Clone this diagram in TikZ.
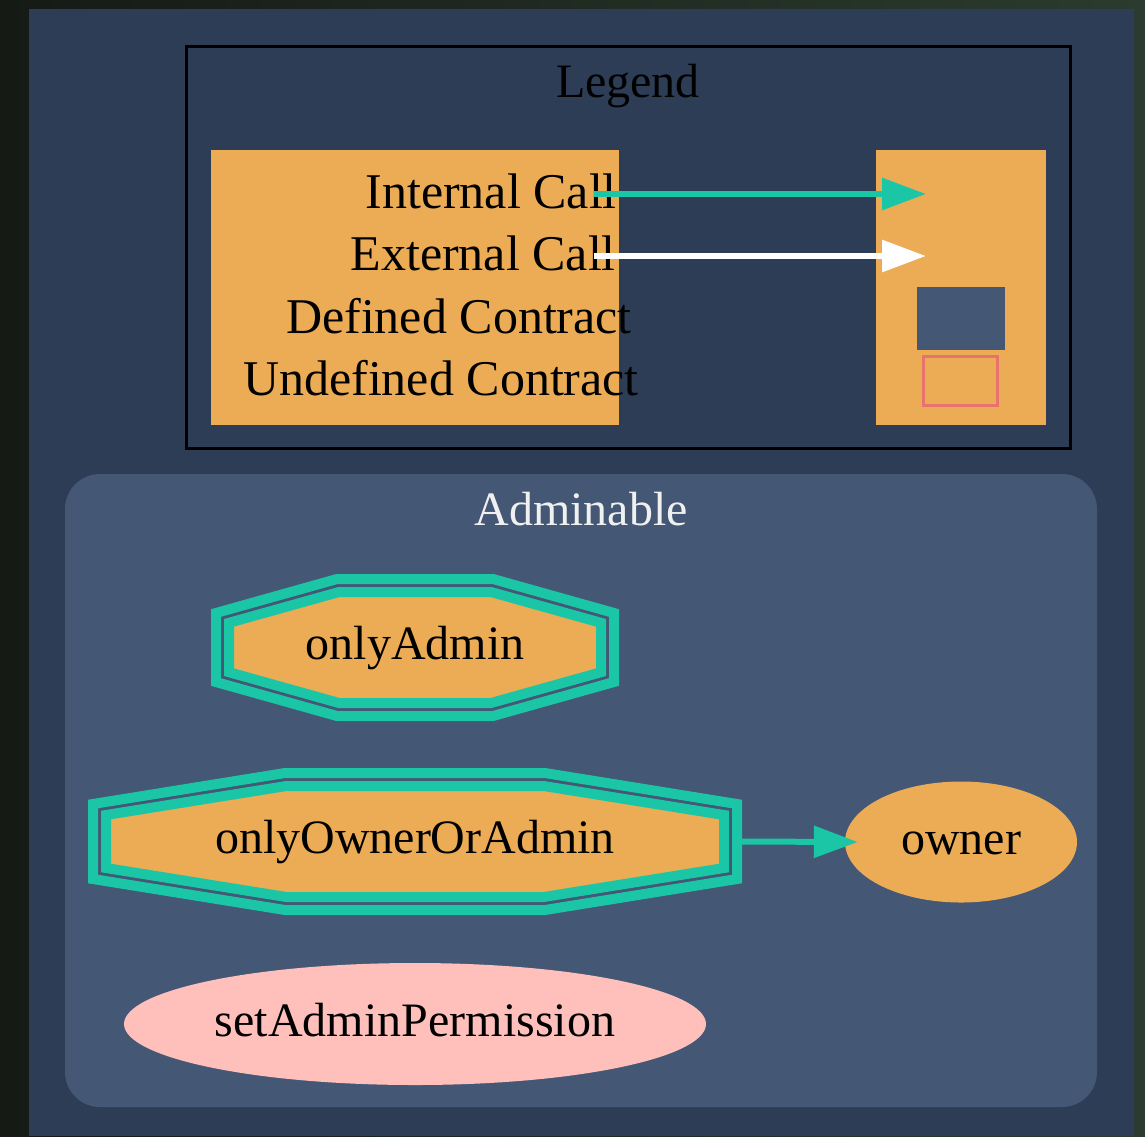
\documentclass[tikz,border=0pt]{standalone}
\usepackage{fontspec}
\usetikzlibrary{arrows.meta,shapes.geometric}
\newfontfamily\tnr{Liberation Serif}
\newcommand\lab{\tnr\fontsize{48}{58}\selectfont}
\newcommand\leglab{\tnr\fontsize{50}{60}\selectfont}
\definecolor{pagebg}{HTML}{2E3D56}
\definecolor{clus}{HTML}{445775}
\definecolor{orng}{HTML}{EBAC55}
\definecolor{tealc}{HTML}{1BC6A6}
\definecolor{pinkf}{HTML}{FFBFBB}
\definecolor{redl}{HTML}{E8736D}
\definecolor{outerL}{HTML}{151A15}
\definecolor{outerR}{HTML}{2B3B2F}
\definecolor{titlec}{HTML}{F0F0F0}
\newcommand\myoctagon[4]{(-#1,-#4) -- (-#3,-#2) -- (#3,-#2) -- (#1,-#4) -- (#1,#4) -- (#3,#2) -- (-#3,#2) -- (-#1,#4) -- cycle}
\begin{document}
\begin{tikzpicture}[x=1pt,y=-1pt,
  txt/.style={font=\lab, inner sep=0pt, text height=35pt, text depth=11pt},
  legtxt/.style={font=\leglab, inner sep=0pt},
  octline/.style={draw=tealc, line width=10pt, line join=miter},
  call/.style={line width=6pt, -{Triangle[length=44pt,width=31pt]}},
  keybox/.style={fill=orng, inner sep=0pt, outer sep=0pt, anchor=north west}]
\shade[left color=outerL, right color=outerR] (0,0) rectangle (1145,1136);
\useasboundingbox (0,0) rectangle (1145,1136);
\fill[pagebg] (29,9) rectangle (1134,1136);

% Legend
\draw[line width=3pt] (186.5,46.5) rectangle (1070,448.5);
\node[txt, anchor=base] (legt) at (628,97) {Legend};
\node[keybox, minimum width=408pt, minimum height=275pt] (lkey) at (211,150) {};
\node[keybox, minimum width=170pt, minimum height=275pt] (rkey) at (876,150) {};
\node[fill=clus, inner sep=0pt, minimum width=88pt, minimum height=63pt] (defc) at (961,318.5) {};
\node[draw=redl, line width=3pt, inner sep=0pt, outer sep=0pt, minimum width=74pt, minimum height=49pt] (undc) at (960.5,381) {};
\node[legtxt, anchor=base east] (lint) at (617,208) {Internal Call};
\node[legtxt, anchor=base east] (lext) at (616,270) {External Call};
\node[legtxt, anchor=base east] (ldef) at (632,333) {Defined Contract};
\node[legtxt, anchor=base east] (lund) at (639,395) {Undefined Contract};
\coordinate (s1) at (594,194);
\coordinate (t1) at (926,194);
\coordinate (s2) at (594,256);
\coordinate (t2) at (926,256);
\draw[call, tealc] (s1) -- (t1);
\draw[call, white] (s2) -- (t2);

% Cluster
\fill[clus, rounded corners=35pt] (65,474) rectangle (1097,1107);
\node[txt, anchor=base, text=titlec] (clt) at (581,525) {Adminable};

% onlyAdmin
\coordinate (oac) at (415,647.5);
\draw[octline, shift={(oac)}] \myoctagon{199}{68.5}{78}{34.5};
\draw[octline, fill=orng, shift={(oac)}] \myoctagon{186}{55.5}{76}{24.7};
\node[txt] (oa) at (oac) {onlyAdmin};

% onlyOwnerOrAdmin
\coordinate (oooac) at (415,841.5);
\draw[octline, shift={(oooac)}] \myoctagon{322}{68.5}{130}{37.5};
\draw[octline, fill=orng, shift={(oooac)}] \myoctagon{309}{55.5}{128.7}{26.5};
\node[txt, minimum width=654pt] (oooa) at (oooac) {onlyOwnerOrAdmin};

% owner
\node[txt, ellipse, fill=orng, minimum width=232pt, minimum height=121pt] (owner) at (961,842) {owner};
\draw[call, tealc] (oooa.east) -- ([xshift=13pt]owner.west);

% setAdminPermission
\node[txt, ellipse, fill=pinkf, minimum width=582pt, minimum height=122pt] (sap) at (415,1024) {setAdminPermission};
\end{tikzpicture}
\end{document}
